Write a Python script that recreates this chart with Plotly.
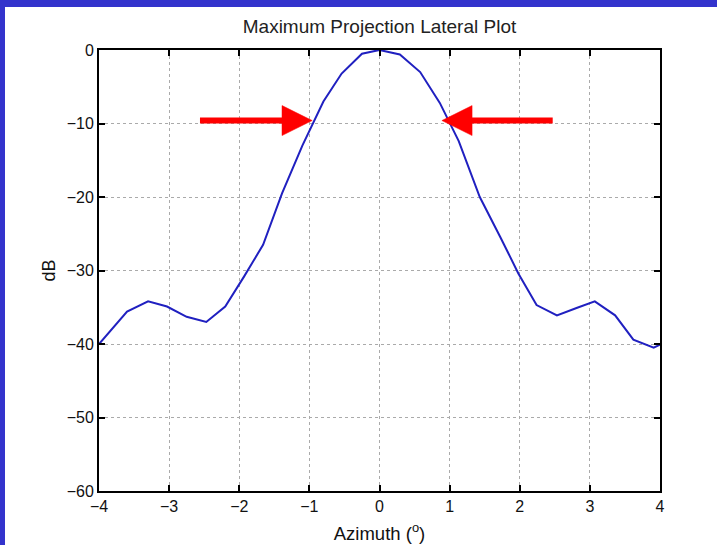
import plotly.graph_objects as go

# Data
azimuth = [-4.0, -3.6, -3.3, -3.03, -2.75, -2.47, -2.2, -1.93, -1.66, -1.39, -1.1,
           -0.8, -0.54, -0.25, 0.0, 0.29, 0.58, 0.86, 1.13, 1.43, 1.72, 1.98,
           2.24, 2.53, 2.81, 3.07, 3.36, 3.62, 3.91, 4.0]
db = [-40.0, -35.6, -34.2, -34.9, -36.3, -37.0, -34.9, -30.8, -26.5, -19.5, -13.0,
      -7.0, -3.2, -0.5, 0.0, -0.6, -3.0, -7.2, -12.4, -20.0, -25.4, -30.4,
      -34.7, -36.1, -35.1, -34.2, -36.1, -39.4, -40.5, -40.1]

x_ticks = [-4, -3, -2, -1, 0, 1, 2, 3, 4]
y_ticks = [0, -10, -20, -30, -40, -50, -60]

# Arrow annotations (shaft start, head base, tip) in data units
arrow_y = -9.6
left_arrow = (-2.56, -1.39, -0.96)
right_arrow = (2.47, 1.32, 0.89)
head_half = 2.04

fig = go.Figure()
fig.add_trace(go.Scatter(x=azimuth, y=db, mode="lines",
                         line=dict(color="#2020c0", width=2), showlegend=False))

W, H = 717, 545
L, R, T, B = 99, 57, 50, 54
pw, ph = W - L - R, H - T - B

def px_x(p):
    return (p - L) / pw

def px_y(p):
    return (H - B - p) / ph

shapes = [
    # blue frame strips (left and top)
    dict(type="rect", xref="paper", yref="paper", x0=px_x(-5), x1=px_x(5),
         y0=px_y(560), y1=px_y(-5), fillcolor="#3333cc", line_width=0, layer="below"),
    dict(type="rect", xref="paper", yref="paper", x0=px_x(-5), x1=px_x(725),
         y0=px_y(7), y1=px_y(-5), fillcolor="#3333cc", line_width=0, layer="below"),
]
for s, b, t in (left_arrow, right_arrow):
    shapes.append(dict(type="line", xref="x", yref="y", x0=s, x1=b + (0.03 if s < b else -0.03),
                       y0=arrow_y, y1=arrow_y, line=dict(color="#ff0000", width=6)))
    shapes.append(dict(type="path", xref="x", yref="y",
                       path=f"M{b},{arrow_y + head_half} L{t},{arrow_y} L{b},{arrow_y - head_half} Z",
                       fillcolor="#ff0000", line=dict(color="#ff0000", width=0.5)))

fig.update_layout(
    width=W, height=H,
    margin=dict(l=L, r=R, t=T, b=B, autoexpand=False),
    paper_bgcolor="white", plot_bgcolor="white",
    font=dict(family="Liberation Sans, Arial, sans-serif", size=16, color="#111111"),
    title=dict(text="Maximum Projection Lateral Plot", x=(L + pw / 2) / W, xanchor="center",
               y=1 - 26 / H, yanchor="middle", font=dict(size=19, color="#222222")),
    shapes=shapes,
    showlegend=False,
)
fig.update_xaxes(range=[-4, 4], tickvals=x_ticks, ticks="inside", ticklen=6, tickwidth=1.5,
                 tickcolor="black", showline=True, linecolor="black", linewidth=1.8,
                 mirror="allticks", showgrid=True, gridcolor="#aaaaaa", griddash="dot",
                 gridwidth=1, zeroline=False, automargin=False,
                 title=dict(text="Azimuth (<sup>o</sup>)", standoff=13, font=dict(size=18.5)))
fig.update_yaxes(range=[-60, 0], tickvals=y_ticks, ticks="inside", ticklen=6, tickwidth=1.5,
                 tickcolor="black", showline=True, linecolor="black", linewidth=1.8,
                 mirror="allticks", showgrid=True, gridcolor="#aaaaaa", griddash="dot",
                 gridwidth=1, zeroline=False, automargin=False,
                 title=dict(text="dB", standoff=6, font=dict(size=18)))

fig.write_html(
    "out.html",
    config={"displayModeBar": False},
    post_script="document.body.style.margin='0';document.body.style.padding='0';"
                "document.documentElement.style.overflow='hidden';",
)
